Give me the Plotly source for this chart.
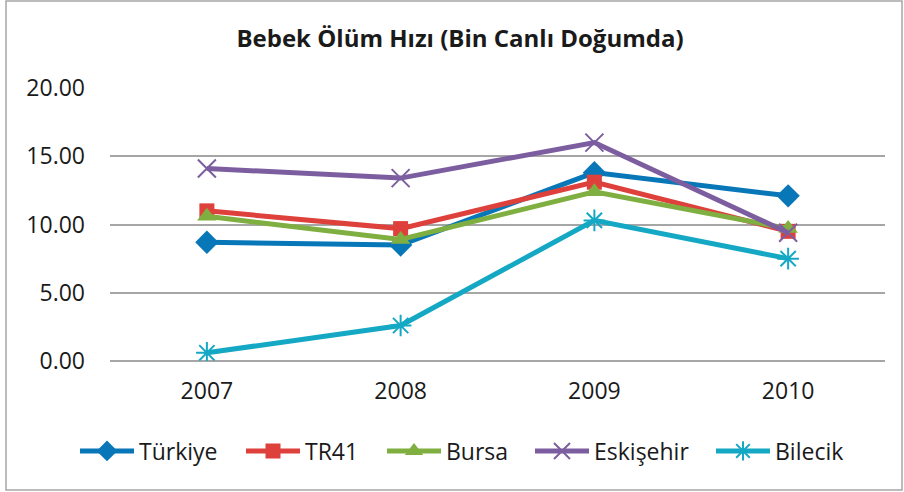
import plotly.graph_objects as go

years = ["2007", "2008", "2009", "2010"]
turkiye = [8.7, 8.5, 13.8, 12.1]
tr41 = [11.0, 9.7, 13.1, 9.5]
bursa = [10.6, 8.9, 12.4, 9.7]
eskisehir = [14.1, 13.4, 16.0, 9.4]
bilecik = [0.6, 2.6, 10.3, 7.5]
y_ticks = [0, 5, 10, 15, 20]
y_tick_labels = ["0.00", "5.00", "10.00", "15.00", "20.00"]

series = [
    ("Türkiye", turkiye, "#0877B8", "diamond", 18, 0, 97),
    ("TR41", tr41, "#DE413C", "square", 15, 0, 72),
    ("Bursa", bursa, "#80AF41", "triangle-up", 17, 0, 79),
    ("Eskişehir", eskisehir, "#7C5EA0", "x-thin-open", 18, 2, 112),
    ("Bilecik", bilecik, "#14A8C4", "asterisk-open", 18, 2, 80),
]

FONT = "Open Sans"
fig = go.Figure()
for name, vals, color, sym, size, lw, legw in series:
    marker = dict(symbol=sym, size=size, color=color)
    if lw:
        marker["line"] = dict(color=color, width=lw)
    fig.add_trace(go.Scatter(
        x=years, y=vals, name=name, mode="lines+markers",
        line=dict(color=color, width=5), marker=marker,
        legendwidth=legw,
    ))

L, R, T, B = 110, 19, 88, 131
W, H = 904, 492
pw, ph = W - L - R, H - T - B

fig.update_layout(
    width=W, height=H,
    margin=dict(l=L, r=R, t=T, b=B),
    paper_bgcolor="white", plot_bgcolor="white",
    font=dict(family=FONT, size=23, color="#1a1a1a"),
    title=dict(text="<b>Bebek Ölüm Hızı (Bin Canlı Doğumda)</b>",
               x=460 / W, xanchor="center", xref="container",
               y=1 - 39 / H, yanchor="middle", yref="container",
               font=dict(family=FONT, size=24, color="#1a1a1a")),
    xaxis=dict(type="category", range=[-0.5, 3.5], showgrid=False,
               showline=False, zeroline=False, ticks="",
               ticklabelstandoff=14, tickfont=dict(size=23)),
    yaxis=dict(range=[0, 20], tickvals=y_ticks, ticktext=y_tick_labels,
               showgrid=True, gridcolor="#A6A6A6", gridwidth=1.5,
               zeroline=True, zerolinecolor="#A6A6A6", zerolinewidth=1.5,
               showline=False, ticks="", ticklabelstandoff=24,
               tickfont=dict(size=23)),
    legend=dict(orientation="h", x=(75 - L) / pw, xanchor="left",
                y=(361 - 451) / ph, yanchor="middle",
                font=dict(size=23), itemwidth=54, bgcolor="rgba(0,0,0,0)"),
    showlegend=True,
)

fig.add_shape(type="rect", xref="paper", yref="paper",
              x0=(6 - L) / pw, x1=(902 - L) / pw,
              y0=(361 - 490) / ph, y1=(361 - 1) / ph,
              line=dict(color="#A6A6A6", width=1.5), fillcolor="rgba(0,0,0,0)",
              layer="below")

fig.write_html("out.html", config={"displayModeBar": False},
               post_script="document.body.style.margin='0';document.body.style.padding='0';")
